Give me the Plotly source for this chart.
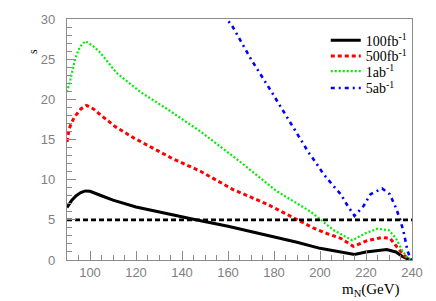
import plotly.graph_objects as go

# ---- data ----
m_100fb = [90, 92, 94, 96, 98, 100, 105, 110, 120, 130, 140, 146, 160, 170, 180, 190, 200, 210, 215, 220, 225, 229, 233, 236, 238, 240]
s_100fb = [6.55, 7.4, 8.0, 8.4, 8.6, 8.55, 8.0, 7.45, 6.6, 5.95, 5.3, 5.0, 4.2, 3.55, 2.9, 2.2, 1.45, 1.0, 0.7, 1.0, 1.2, 1.3, 1.0, 0.4, 0.15, 0.0]

m_500fb = [90, 91, 93, 96, 98.5, 101.5, 104, 111, 119, 128, 136, 148, 162, 177, 190, 197, 203, 209, 214.5, 220.5, 227, 230.5, 233.5, 236.5, 238.5, 240]
s_500fb = [14.7, 16.4, 17.7, 18.8, 19.25, 18.8, 18.2, 16.6, 15.2, 13.8, 12.6, 11.05, 8.8, 6.95, 5.0, 4.0, 3.3, 2.7, 1.7, 2.4, 2.8, 2.7, 1.6, 0.6, 0.1, 0.0]

m_1ab = [90, 91.5, 93.5, 95.5, 98, 101.5, 104.5, 111.5, 122, 133.5, 148, 156.5, 165, 181, 191, 196, 200, 206, 214, 219.5, 225, 230, 233, 235.5, 238, 240]
s_1ab = [20.9, 22.5, 25.0, 26.5, 27.25, 26.6, 25.8, 23.3, 20.9, 18.8, 16.0, 14.1, 12.3, 8.6, 6.8, 6.0, 5.1, 3.7, 2.45, 3.3, 3.9, 3.7, 2.7, 1.3, 0.3, 0.0]

m_5ab = [155, 159.3, 161.5, 170, 179, 186, 195, 198, 201.5, 205, 209, 212, 215, 219, 222, 227, 230.3, 233, 235, 236.5, 238, 239.3, 240]
s_5ab = [32, 30, 29.3, 25.0, 20.9, 17.6, 13.4, 12.2, 10.7, 9.5, 8.2, 6.75, 5.5, 6.75, 8.2, 8.9, 8.2, 6.5, 4.9, 3.3, 1.2, 0.2, 0.0]

m_threshold = [90, 240]
s_threshold = [5, 5]

names = ["100fb<sup>-1</sup>", "500fb<sup>-1</sup>", "1ab<sup>-1</sup>", "5ab<sup>-1</sup>"]

x_ticks = [100, 120, 140, 160, 180, 200, 220, 240]
y_ticks = [0, 5, 10, 15, 20, 25, 30]

# ---- figure ----
fig = go.Figure()
fig.add_trace(go.Scatter(x=m_100fb, y=s_100fb, mode="lines", name=names[0], legend="legend",
                         line=dict(color="black", width=3)))
fig.add_trace(go.Scatter(x=m_500fb, y=s_500fb, mode="lines", name=names[1], legend="legend2",
                         line=dict(color="#ff0000", width=3, dash="4px,3px")))
fig.add_trace(go.Scatter(x=m_1ab, y=s_1ab, mode="lines", name=names[2], legend="legend3",
                         line=dict(color="#00ee00", width=2.2, dash="2px,2px")))
fig.add_trace(go.Scatter(x=m_5ab, y=s_5ab, mode="lines", name=names[3], legend="legend4",
                         line=dict(color="#0000ff", width=2.6, dash="4px,4px,2px,4px")))
fig.add_trace(go.Scatter(x=m_threshold, y=s_threshold, mode="lines", showlegend=False,
                         line=dict(color="black", width=2.6, dash="5px,3px")))

axis_common = dict(
    showgrid=False, zeroline=False, showline=True, mirror=True,
    linecolor="#8c8c8c", linewidth=1.3,
    ticks="inside", tickcolor="#8c8c8c", ticklen=9, tickwidth=1,
    tickfont=dict(family="Liberation Sans, Arial", size=13, color="#7f7f7f"),
)

fig.update_xaxes(range=[90, 240], tickvals=x_ticks,
                 minor=dict(dtick=5, tick0=90, ticks="inside", ticklen=4.5, tickcolor="#8c8c8c"),
                 **axis_common)
fig.update_yaxes(range=[0, 30], tickvals=y_ticks, ticklabelstandoff=8,
                 minor=dict(dtick=1, tick0=0, ticks="inside", ticklen=4.5, tickcolor="#8c8c8c"),
                 **axis_common)

fig.add_annotation(text="s", xref="paper", yref="paper", x=-0.125, y=0.885,
                   textangle=-90, showarrow=False,
                   font=dict(family="Liberation Serif, Times New Roman", size=12, color="black"))
fig.add_annotation(text="m<sub>N</sub>(GeV)", xref="paper", yref="paper", x=0.97, y=-0.125,
                   xanchor="right", yanchor="middle", showarrow=False,
                   font=dict(family="Liberation Serif, Times New Roman", size=15, color="black"))

legend_font = dict(family="Liberation Serif, Times New Roman", size=14, color="black")
legend_y = [0.910, 0.845, 0.782, 0.712]
legend_keys = ["legend", "legend2", "legend3", "legend4"]
legends = {k: dict(x=0.75, y=yy, xanchor="left", yanchor="middle",
                   bgcolor="rgba(0,0,0,0)", font=legend_font)
           for k, yy in zip(legend_keys, legend_y)}

fig.update_layout(
    width=436, height=301,
    margin=dict(l=67, r=24, t=16, b=41),
    paper_bgcolor="white", plot_bgcolor="white",
    showlegend=True,
    **legends,
)

fig.write_html("out.html", config={"displayModeBar": False},
               post_script="document.body.style.margin='0';")
